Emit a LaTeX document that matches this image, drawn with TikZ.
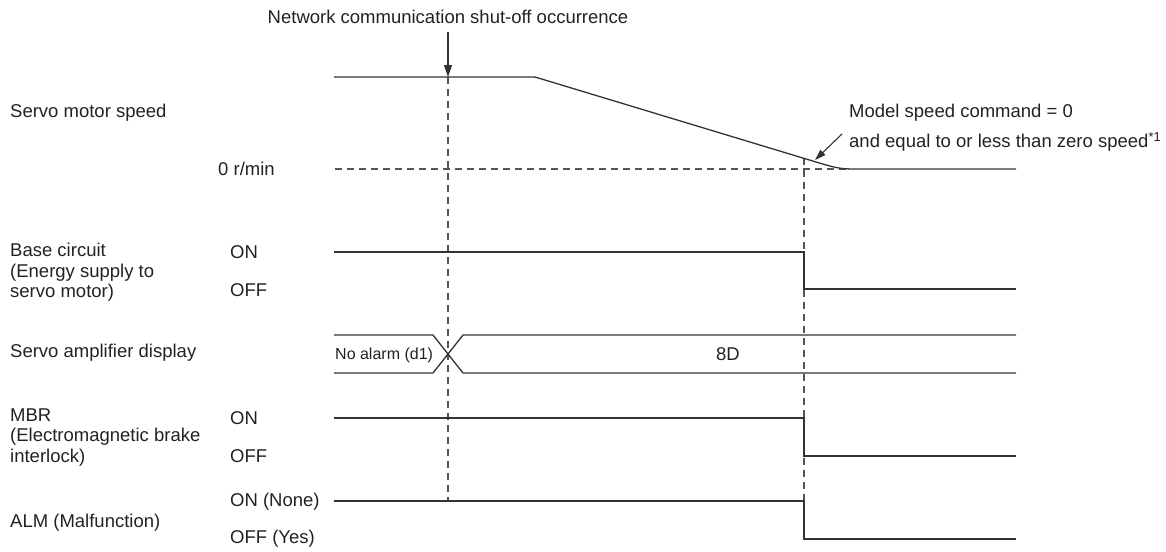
\documentclass[tikz,border=0pt]{standalone}
\usepackage{fontspec}
\setmainfont{Liberation Sans}
\usetikzlibrary{arrows.meta}
\definecolor{ln}{HTML}{333333}
\definecolor{dl}{HTML}{555555}
\definecolor{tx}{HTML}{222222}
\begin{document}
\begin{tikzpicture}[x=1pt,y=-1pt,
  wave/.style={draw=ln,line width=1.3pt,line join=miter},
  guide/.style={draw=dl,line width=1.1pt,dash pattern=on 7pt off 5pt},
  lbl/.style={anchor=west,inner sep=0pt,text=tx,font=\fontsize{18.5}{20.5}\selectfont,align=left},
  small/.style={inner sep=0pt,text=tx,font=\fontsize{16}{18}\selectfont},
  tipped/.style={draw=ln,line width=1.1pt,-{Triangle[length=12pt,width=8pt]}}]
\useasboundingbox (0,0) rectangle (1166,551);

% ---- texts ----
\node[lbl,anchor=center] (title) at (448,17) {Network communication shut-off occurrence};
\node[lbl] (lspeed) at (10,113) {Servo motor speed};
\node[lbl] (lzero) at (218,169) {0 r/min};
\node[lbl] (lbase) at (10,272.5) {Base circuit\\(Energy supply to\\servo motor)};
\node[lbl] (bon) at (230,252) {ON};
\node[lbl] (boff) at (230,290) {OFF};
\node[lbl] (ldisp) at (10,353) {Servo amplifier display};
\node[lbl] (lmbr) at (10,437.5) {MBR\\(Electromagnetic brake\\interlock)};
\node[lbl] (mon) at (230,418) {ON};
\node[lbl] (moff) at (230,456) {OFF};
\node[lbl] (lalm) at (10,523) {ALM (Malfunction)};
\node[lbl] (aon) at (230,502) {ON (None)};
\node[lbl] (aoff) at (230,539) {OFF (Yes)};
\node[lbl] (note1) at (849,113) {Model speed command = 0};
\node[lbl] (note2) at (849,142) {and equal to or less than zero speed\textsuperscript{*1}};
\node[small,anchor=west] (noalarm) at (335,355) {No alarm (d1)};
\node[lbl,anchor=center] (d8) at (728,354) {8D};

% ---- guides ----
\coordinate (g1t) at (448,77);
\coordinate (g1b) at (448,501);
\coordinate (g2t) at (804,158);
\coordinate (g2b) at (804,501);
\coordinate (z0) at (335,169);
\coordinate (z1) at (848,169);
\draw[guide] (g1t) -- (g1b);
\draw[guide] (g2t) -- (g2b);
\draw[guide] (z0) -- (z1);

% ---- arrows ----
\coordinate (a0) at (448,32);
\draw[tipped] (a0) -- (g1t);
\coordinate (n0) at (842,134);
\coordinate (n1) at (815,160);
\draw[tipped,-{Triangle[length=11pt,width=7pt]}] (n0) -- (n1);

% ---- servo motor speed ----
\draw[wave] (334,77) -- (535,77) -- (818,162.6) .. controls (840,169) .. (862,169) -- (1016,169);

% ---- base circuit ----
\draw[wave] (334,252) -- (804,252) -- (804,289) -- (1016,289);

% ---- display ----
\draw[wave] (334,335) -- (433,335) -- (463,373) -- (1016,373);
\draw[wave] (334,373) -- (433,373) -- (463,335) -- (1016,335);

% ---- MBR ----
\draw[wave] (334,418) -- (804,418) -- (804,456) -- (1016,456);

% ---- ALM ----
\draw[wave] (334,501) -- (804,501) -- (804,539) -- (1016,539);
\end{tikzpicture}
\end{document}
